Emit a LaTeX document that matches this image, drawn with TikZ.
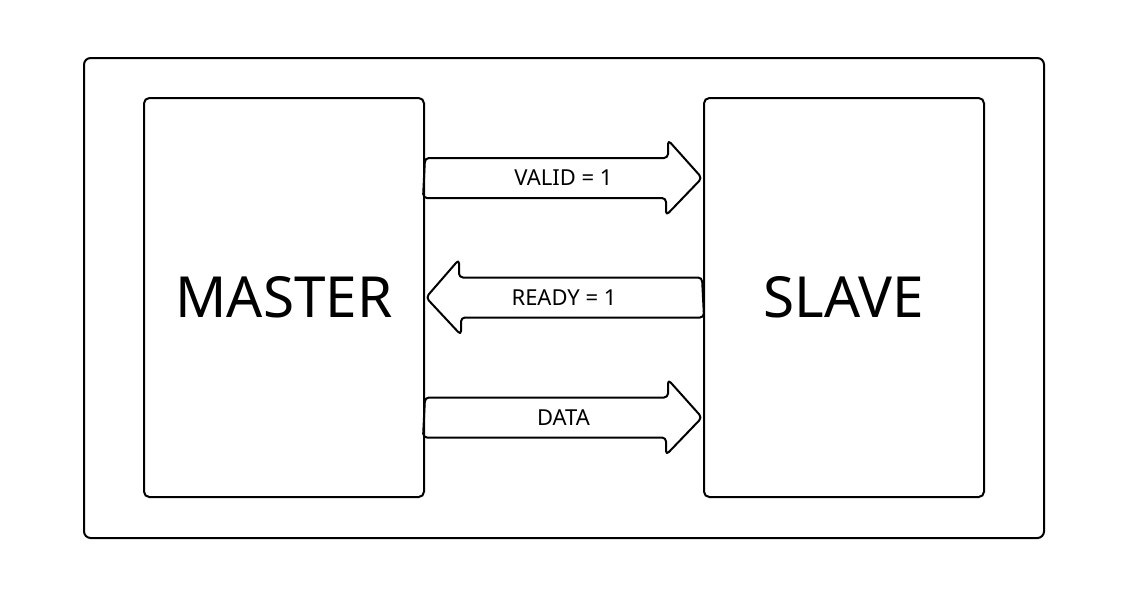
\documentclass[tikz,border=0pt]{standalone}
\usepackage{fontspec}
\setmainfont{Noto Sans}
\usetikzlibrary{calc,positioning}

\tikzset{
	block/.style={draw,line width=1.5pt,rounded corners=4pt,minimum width=210pt,minimum height=299.25pt,font=\fontsize{42.5}{50}\selectfont},
	fat/.style={draw,line width=1.5pt,rounded corners=3pt,line join=round},
	sig/.style={font=\fontsize{16.5}{20}\selectfont}
}

\begin{document}
\begin{tikzpicture}[x=0.75pt,y=-0.75pt]
	\useasboundingbox (0,0) rectangle (1127,612);
	\draw[line width=1.5pt,rounded corners=5pt] (84,58) rectangle (1044,538);

	\node[block] (master) at (284,297.5) {MASTER} ;
	\node[block] (slave) at (844,297.5) {SLAVE} ;

	% ends of the three arrows
	\path
		(master.east) ++(0,-119.5) coordinate (validL)
		(slave.west) ++(-1,-119.5) coordinate (validR)
		(master.east) ++(1,0) coordinate (readyL)
		(slave.west) ++(-1,0) coordinate (readyR)
		(master.east) ++(0,120) coordinate (dataL)
		(slave.west) ++(-1,120) coordinate (dataR);

	\draw[fat] (validL) ++(0,-20) -- ++(243,0) -- ++(0,-18) -- (validR) -- ++(-36,37.5) -- ++(0,-17.5) -- ++(-243,0) -- cycle;
	\draw[fat] (readyR) ++(0,-20) -- ++(-243,0) -- ++(0,-18) -- (readyL) -- ++(35,37.5) -- ++(0,-17.5) -- ++(243,0) -- cycle;
	\draw[fat] (dataL) ++(0,-20) -- ++(243,0) -- ++(0,-18) -- (dataR) -- ++(-36,37.5) -- ++(0,-17.5) -- ++(-243,0) -- cycle;

	\node[sig] (valid) at ($(validL)!0.5!(validR)$) {VALID = 1} ;
	\node[sig] (ready) at ($(readyL)!0.5!(readyR)$) {READY = 1} ;
	\node[sig] (data) at ($(dataL)!0.5!(dataR)$) {DATA} ;
\end{tikzpicture}
\end{document}
